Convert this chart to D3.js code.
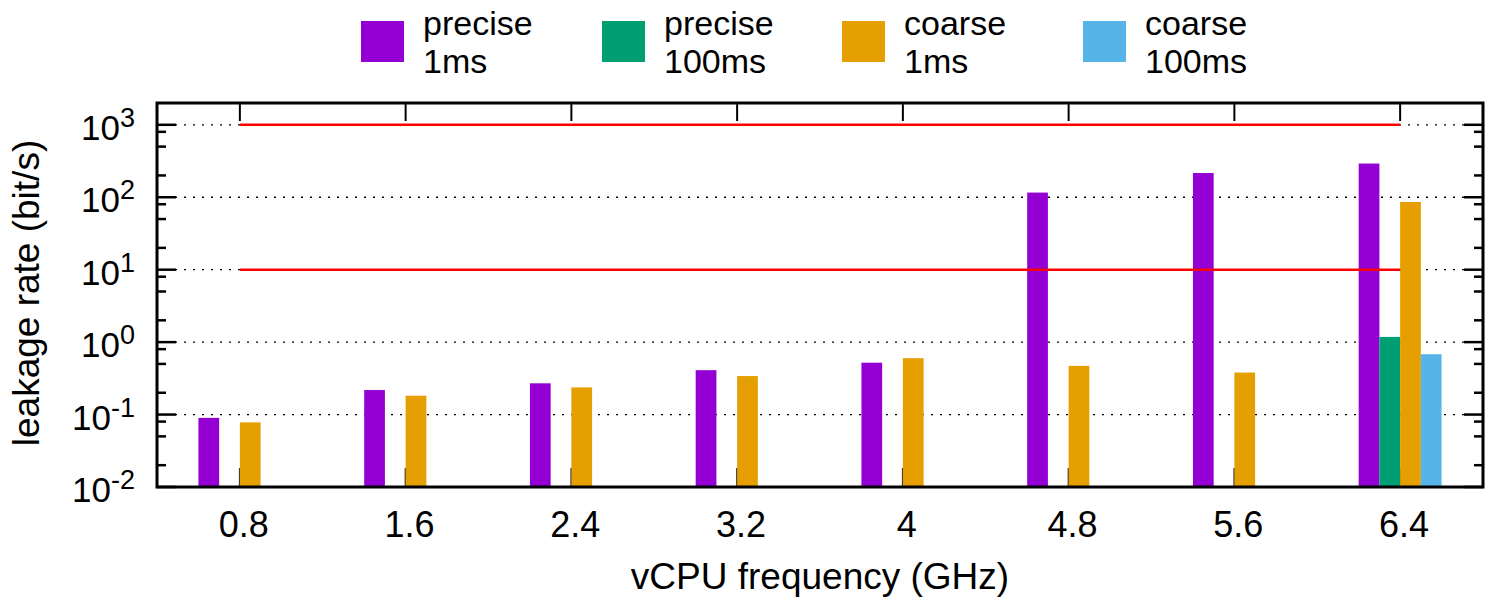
<!DOCTYPE html>
<html>
<head>
<meta charset="utf-8">
<script src="https://cdn.jsdelivr.net/npm/d3@7"></script>
<style>
  html, body { margin: 0; padding: 0; background: #fff; }
  svg { display: block; font-family: "Liberation Sans", Arial, Helvetica, sans-serif; }
</style>
</head>
<body>
<svg id="chart" width="1485" height="602"></svg>
<script>
// vCPU frequencies (GHz) along the x axis
const frequencies = ["0.8", "1.6", "2.4", "3.2", "4", "4.8", "5.6", "6.4"];

// Leakage rate (bit/s) per configuration; null = no bar
const precise1ms   = [0.090, 0.218, 0.27, 0.41, 0.52, 116, 216, 292];
const precise100ms = [null, null, null, null, null, null, null, 1.18];
const coarse1ms    = [0.078, 0.182, 0.237, 0.34, 0.60, 0.47, 0.38, 86];
const coarse100ms  = [null, null, null, null, null, null, null, 0.68];

const seriesNames  = ["precise|1ms", "precise|100ms", "coarse|1ms", "coarse|100ms"];
const seriesColors = ["#9400d3", "#009e73", "#e69f00", "#56b4e9"];

// Reference levels drawn as red horizontal lines
const referenceLevels = [10, 1000];

// Y-axis decades
const yDecades = [-2, -1, 0, 1, 2, 3];

const series = [precise1ms, precise100ms, coarse1ms, coarse100ms].map((values, k) => ({
  name: seriesNames[k], color: seriesColors[k], values
}));

const svg = d3.select("#chart");
const plot = { left: 157, right: 1483, top: 103, bottom: 487 };

const x = d3.scaleLinear().domain([-0.5, frequencies.length - 0.5]).range([plot.left, plot.right]);
const y = d3.scaleLog().domain([0.01, 2000]).range([plot.bottom, plot.top]);

const nSeries = series.length;
const slot = 0.5 / nSeries; // cluster occupies half of each group slot

const g = svg.append("g");

// Dotted grid lines at each decade
g.selectAll("line.grid").data(yDecades.slice(1)).join("line")
  .attr("x1", plot.left).attr("x2", plot.right)
  .attr("y1", d => y(Math.pow(10, d))).attr("y2", d => y(Math.pow(10, d)))
  .attr("stroke", "#000").attr("stroke-width", 1.3)
  .attr("stroke-dasharray", "2,7");

// Bottom x ticks at group centres (under the bars)
g.selectAll("line.xtickb").data(frequencies).join("line")
  .attr("x1", (d, i) => x(i)).attr("x2", (d, i) => x(i))
  .attr("y1", plot.bottom).attr("y2", plot.bottom - 19)
  .attr("stroke", "#333").attr("stroke-width", 2);

// Bars
series.forEach((s, k) => {
  g.selectAll(null).data(s.values.map((v, i) => ({ v, i })).filter(d => d.v != null)).join("rect")
    .attr("x", d => x(d.i + (k - nSeries / 2) * slot))
    .attr("width", d => x(d.i + (k - nSeries / 2 + 1) * slot) - x(d.i + (k - nSeries / 2) * slot))
    .attr("y", d => y(d.v))
    .attr("height", d => plot.bottom - y(d.v))
    .attr("fill", s.color);
});

// Reference lines
g.selectAll("line.ref").data(referenceLevels).join("line")
  .attr("x1", x(0)).attr("x2", x(frequencies.length - 1))
  .attr("y1", d => y(d)).attr("y2", d => y(d))
  .attr("stroke", "#ff0000").attr("stroke-width", 2.5);

// Top x ticks
g.selectAll("line.xtickt").data(frequencies).join("line")
  .attr("x1", (d, i) => x(i)).attr("x2", (d, i) => x(i))
  .attr("y1", plot.top).attr("y2", plot.top + 18)
  .attr("stroke", "#000").attr("stroke-width", 2);

// Y ticks: major at decades, minor at 2, 5, 8 within each decade (both sides)
const minorTicks = [];
yDecades.slice(0, -1).forEach(d => [2, 5, 8].forEach(m => minorTicks.push(m * Math.pow(10, d))));
const yTicks = [
  ...yDecades.map(d => ({ v: Math.pow(10, d), len: 19 })),
  ...minorTicks.map(v => ({ v, len: 9 }))
];
g.selectAll("line.ytl").data(yTicks).join("line")
  .attr("x1", plot.left).attr("x2", d => plot.left + d.len)
  .attr("y1", d => y(d.v)).attr("y2", d => y(d.v))
  .attr("stroke", "#000").attr("stroke-width", 2.5);
g.selectAll("line.ytr").data(yTicks).join("line")
  .attr("x1", plot.right).attr("x2", d => plot.right - d.len)
  .attr("y1", d => y(d.v)).attr("y2", d => y(d.v))
  .attr("stroke", "#000").attr("stroke-width", 2.5);

// Plot border
g.append("rect")
  .attr("x", plot.left).attr("y", plot.top)
  .attr("width", plot.right - plot.left).attr("height", plot.bottom - plot.top)
  .attr("fill", "none").attr("stroke", "#000").attr("stroke-width", 3);

// Y tick labels 10^n
const ylab = svg.append("g").selectAll("text").data(yDecades).join("text")
  .attr("x", 135).attr("y", d => y(Math.pow(10, d)) + 15)
  .attr("text-anchor", "end").attr("font-size", 35).attr("fill", "#000");
ylab.append("tspan").text("10");
ylab.append("tspan").attr("dy", -13).attr("font-size", 27).text(d => d);

// X tick labels
svg.append("g").selectAll("text").data(frequencies).join("text")
  .attr("x", (d, i) => x(i) + 4).attr("y", 537)
  .attr("text-anchor", "middle").attr("font-size", 36).attr("fill", "#000")
  .text(d => d);

// Axis titles
svg.append("text")
  .attr("x", (plot.left + plot.right) / 2).attr("y", 589)
  .attr("text-anchor", "middle").attr("font-size", 37).attr("fill", "#000")
  .text("vCPU frequency (GHz)");
svg.append("text")
  .attr("transform", "translate(39,293) rotate(-90)")
  .attr("text-anchor", "middle").attr("font-size", 37).attr("fill", "#000")
  .text("leakage rate (bit/s)");

// Legend: swatch plus two-line label
const legendX = [361, 602, 842, 1083];
const leg = svg.append("g").selectAll("g").data(series).join("g")
  .attr("transform", (d, k) => `translate(${legendX[k]},0)`);
leg.append("rect").attr("x", 0).attr("y", 21).attr("width", 43).attr("height", 41)
  .attr("fill", d => d.color);
leg.each(function (d) {
  const parts = d.name.split("|");
  const sel = d3.select(this);
  sel.append("text").attr("x", 62).attr("y", 35)
    .attr("font-size", 34).attr("fill", "#000").text(parts[0]);
  sel.append("text").attr("x", 62).attr("y", 73)
    .attr("font-size", 34).attr("fill", "#000").text(parts[1]);
});
</script>
</body>
</html>
